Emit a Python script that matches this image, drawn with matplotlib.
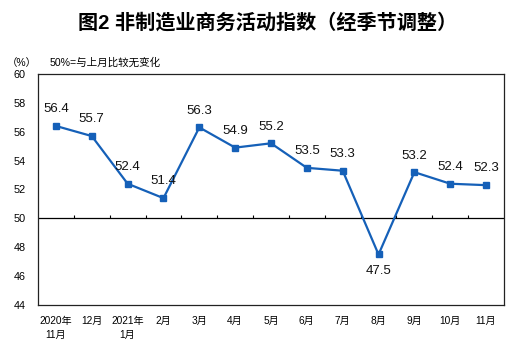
import matplotlib
matplotlib.use('Agg')
import matplotlib.pyplot as plt
import numpy as np

plt.rcParams['font.family'] = ['Liberation Sans', 'Noto Sans CJK SC', 'DejaVu Sans']

# data
months = ['2020年\n11月', '12月', '2021年\n1月', '2月', '3月', '4月', '5月',
          '6月', '7月', '8月', '9月', '10月', '11月']
index_values = [56.4, 55.7, 52.4, 51.4, 56.3, 54.9, 55.2, 53.5, 53.3, 47.5, 53.2, 52.4, 52.3]
y_ticks = [44, 46, 48, 50, 52, 54, 56, 58, 60]

line_color = '#1560b8'

fig = plt.figure(figsize=(5.25, 3.54), dpi=100)
ax = fig.add_axes([0.0724, 0.1384, 0.8876, 0.6526])

x = np.arange(len(months))
ax.plot(x, index_values, color=line_color, lw=1.6, marker='s', markersize=4.2, zorder=3)

# 50 reference line with small ticks between months
ax.axhline(50, color='black', lw=0.9, zorder=2)
ax.vlines(x[1:] - 0.5, 50, 50.22, color='black', lw=0.8, zorder=2)

for xi, v in zip(x, index_values):
    dy = -12 if v < 50 else 12
    ax.annotate(f'{v:.1f}', (xi, v), xytext=(0, dy), textcoords='offset points',
                ha='center', va='center', fontsize=9.5, color='#111111')

ax.set_xlim(-0.5, len(months) - 0.5)
ax.set_ylim(44, 60)
ax.set_yticks(y_ticks)
ax.set_xticks(x)
ax.set_xticklabels(months, fontsize=7.3, linespacing=1.45)
ax.tick_params(axis='x', length=0, pad=8)
ax.tick_params(axis='y', length=0, pad=9, labelsize=7.8)
for s in ax.spines.values():
    s.set_linewidth(0.9)
    s.set_color('#222222')

fig.text(0.51, 0.935, '图2 非制造业商务活动指数（经季节调整）', ha='center', va='center',
         fontsize=14.5, fontweight='bold')
fig.text(0.012, 0.823, '（%）', ha='left', va='center', fontsize=7.5)
fig.text(0.095, 0.823, '50%=与上月比较无变化', ha='left', va='center', fontsize=7.6)

fig.savefig('out.png', dpi=100)
